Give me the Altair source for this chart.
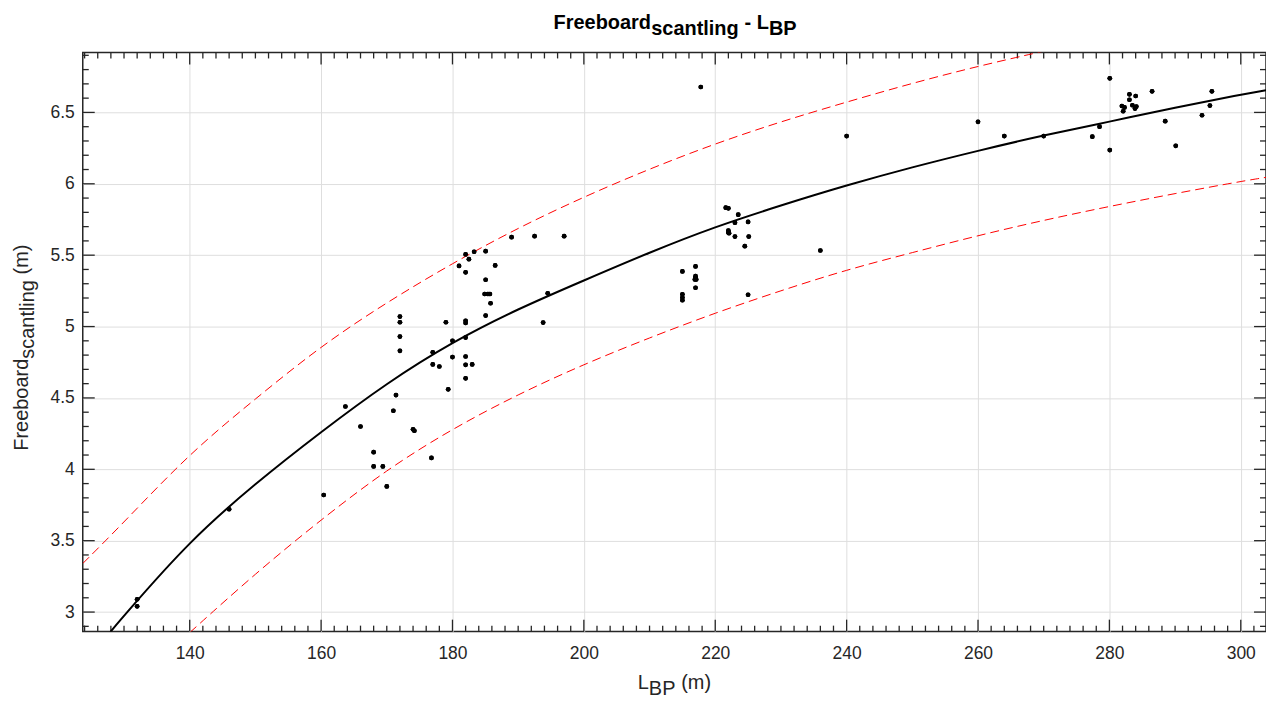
import altair as alt
import pandas as pd

# ---------------- data ----------------
pt_x = [132.0, 132.0, 146.0, 160.4, 163.7, 166.0, 168.0, 168.0, 169.4, 170.0,
        171.0, 171.4, 172.0, 172.0, 172.0, 172.0, 174.0, 174.2, 176.8, 177.0,
        177.0, 178.0, 179.0, 179.35, 180.0, 180.0, 181.0, 182.0, 182.0, 182.0,
        182.0, 182.0, 182.0, 182.0, 182.0, 182.5, 183.0, 183.3, 185.05, 185.05,
        184.9, 185.4, 185.7, 185.8, 185.05, 186.5, 189.0, 192.5, 193.8, 194.5,
        197.0, 215.0, 215.0, 215.0, 215.0, 217.0, 217.0, 217.0, 217.1, 216.9,
        217.0, 217.8, 221.6, 222.0, 222.0, 222.0, 222.1, 223.0, 223.0, 223.5,
        224.5, 225.0, 225.1, 225.0, 236.0, 240.0, 260.0, 264.0, 270.0, 277.4,
        278.5, 280.06, 280.06, 281.9, 282.3, 282.1, 283.05, 283.05, 283.5, 283.9,
        284.1, 284.0, 286.5, 288.5, 290.1, 294.1, 295.3, 295.6]
pt_y = [3.09, 3.04, 3.72, 3.82, 4.44, 4.30, 4.12, 4.02, 4.02, 3.88,
        4.41, 4.52, 5.07, 5.03, 4.93, 4.83, 4.28, 4.27, 4.08, 4.82,
        4.735, 4.72, 5.03, 4.56, 4.90, 4.786, 5.425, 5.505, 5.38, 5.04,
        5.025, 4.923, 4.79, 4.732, 4.637, 5.472, 4.735, 5.524, 5.528, 5.328,
        5.228, 5.228, 5.228, 5.163, 5.077, 5.428, 5.626, 5.633, 5.028, 5.233,
        5.633, 5.386, 5.226, 5.203, 5.184, 5.421, 5.353, 5.342, 5.33, 5.33,
        5.272, 6.678, 5.833, 5.828, 5.672, 5.658, 5.654, 5.728, 5.63, 5.784,
        5.563, 5.733, 5.63, 5.223, 5.533, 6.334, 6.434, 6.334, 6.334, 6.33,
        6.40, 6.739, 6.236, 6.545, 6.535, 6.508, 6.627, 6.589, 6.55, 6.527,
        6.541, 6.615, 6.648, 6.439, 6.266, 6.48, 6.548, 6.648]

# fitted curve and its bounds, read at evenly spaced L_BP values
fit_x = [127.9, 130, 140, 150, 160, 170, 180, 190, 200, 210, 220, 230, 240,
         250, 260, 270, 280, 290, 300, 303.84]
fit_y = [2.86, 2.975, 3.50, 3.902, 4.263, 4.605, 4.893, 5.125, 5.323, 5.52,
         5.70, 5.849, 5.99, 6.117, 6.232, 6.34, 6.435, 6.534, 6.624, 6.656]

up_x = [123.72, 130, 140, 150, 160, 170, 180, 190, 200, 210, 220, 230, 240,
        250, 260, 270]
up_y = [3.34, 3.629, 4.113, 4.494, 4.865, 5.17, 5.444, 5.692, 5.909, 6.105,
        6.282, 6.436, 6.573, 6.705, 6.824, 6.929]

lo_x = [140, 150, 160, 170, 180, 190, 200, 210, 220, 230, 240, 250, 260,
        270, 280, 290, 300, 303.84]
lo_y = [2.856, 3.271, 3.648, 3.999, 4.285, 4.526, 4.736, 4.922, 5.096, 5.252,
        5.398, 5.518, 5.638, 5.745, 5.842, 5.932, 6.017, 6.045]

x_major = [140, 160, 180, 200, 220, 240, 260, 280, 300]
y_major = [3.0, 3.5, 4.0, 4.5, 5.0, 5.5, 6.0, 6.5]
x_minor = [v for v in range(124, 304, 2) if v % 20 != 0]
y_minor = [round(2.9 + 0.1 * i, 1) for i in range(41) if round((2.9 + 0.1 * i) * 10) % 5 != 0]

X_DOM = [123.72, 303.84]
Y_DOM = [2.863, 6.92]
W, H = 1187, 581
FONT = "Liberation Sans"
INK = "#262626"

xs = alt.Scale(domain=X_DOM, nice=False, zero=False)
ys = alt.Scale(domain=Y_DOM, nice=False, zero=False)

pts = pd.DataFrame({"x": pt_x, "y": pt_y})
fit = pd.DataFrame({"x": fit_x, "y": fit_y})
up = pd.DataFrame({"x": up_x, "y": up_y})
lo = pd.DataFrame({"x": lo_x, "y": lo_y})
xmaj = pd.DataFrame({"x": x_major})
ymaj = pd.DataFrame({"y": y_major})
xmin = pd.DataFrame({"x": x_minor})
ymin = pd.DataFrame({"y": y_minor})

base = alt.Chart(pts).mark_circle(size=22, color="black", opacity=1).encode(
    x=alt.X("x:Q", scale=xs, axis=alt.Axis(
        values=x_major, title=None, grid=True, gridColor="#dedede", gridWidth=1,
        ticks=False, domain=False, labelFont=FONT, labelFontSize=17.5,
        labelColor=INK, labelPadding=13, format="d")),
    y=alt.Y("y:Q", scale=ys, axis=alt.Axis(
        values=y_major, title=None, grid=True, gridColor="#dedede", gridWidth=1,
        ticks=False, domain=False, labelFont=FONT, labelFontSize=17.5,
        labelColor=INK, labelPadding=8.5, format=".2~f")),
)

def line(df, color, width, dash=None):
    kw = dict(color=color, strokeWidth=width, clip=True, interpolate="basis")
    if dash:
        kw["strokeDash"] = dash
    return alt.Chart(df).mark_line(**kw).encode(
        x=alt.X("x:Q", scale=xs), y=alt.Y("y:Q", scale=ys))

fit_l = line(fit, "black", 2)
up_l = line(up, "#ff0000", 1, [9, 5])
lo_l = line(lo, "#ff0000", 1, [9, 5])

def xticks(df, length, top):
    if top:
        yy, yy2 = alt.value(0), alt.value(length)
    else:
        yy, yy2 = alt.value(H), alt.value(H - length)
    return alt.Chart(df).mark_rule(color=INK, strokeWidth=1.3).encode(
        x=alt.X("x:Q", scale=xs), y=yy, y2=yy2)

def yticks(df, length, right):
    if right:
        xx, xx2 = alt.value(W), alt.value(W - length)
    else:
        xx, xx2 = alt.value(0), alt.value(length)
    return alt.Chart(df).mark_rule(color=INK, strokeWidth=1.3).encode(
        y=alt.Y("y:Q", scale=ys), x=xx, x2=xx2)

ticks = [xticks(xmaj, 12, False), xticks(xmaj, 12, True),
         xticks(xmin, 6, False), xticks(xmin, 6, True),
         yticks(ymaj, 12, False), yticks(ymaj, 12, True),
         yticks(ymin, 6, False), yticks(ymin, 6, True)]

one = pd.DataFrame({"a": [0]})

def txt(s, x, y, size, bold=False, angle=0):
    return alt.Chart(one).mark_text(
        text=s, align="left", baseline="alphabetic", font=FONT, fontSize=size,
        fontWeight="bold" if bold else "normal", color=INK if not bold else "black",
        angle=angle).encode(x=alt.value(x), y=alt.value(y))

ox, oy = 82.7, 51.5  # page position of plot origin
TS = 20   # title font size
LS = 20   # axis-title font size
texts = [
    txt("Freeboard", 555 - ox, 28 - oy, TS, True),
    txt("scantling", 653 - ox, 34 - oy, TS, True),
    txt("- L", 746.5 - ox, 28 - oy, TS, True),
    txt("BP", 771 - ox, 34 - oy, TS, True),
    txt("L", 639.5 - ox, 690 - oy, LS),
    txt("BP", 650.6 - ox, 696 - oy, LS),
    txt("(m)", 683 - ox, 690 - oy, LS),
    txt("Freeboard", 28 - ox, 451 - oy, LS, angle=270),
    txt("scantling", 34 - ox, 358.7 - oy, LS, angle=270),
    txt("(m)", 28 - ox, 274.2 - oy, LS, angle=270),
]

chart = alt.layer(base, *ticks, up_l, lo_l, fit_l, base, *texts).properties(
    width=W, height=H,
    autosize=alt.AutoSizeParams(type="none"),
    padding={"left": 75, "top": 43.5, "right": 0, "bottom": 70},
).configure_view(stroke=INK, strokeWidth=1.5)

chart.save("out.html", embed_options={"renderer": "svg", "actions": False})
